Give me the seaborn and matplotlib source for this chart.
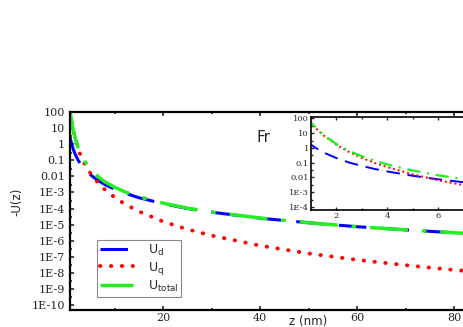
import numpy as np
import seaborn as sns
import matplotlib.pyplot as plt
from matplotlib.ticker import FixedLocator, MultipleLocator, LogLocator, NullFormatter

# data
z = [0.85, 1, 1.2, 1.5, 2, 2.5, 3, 3.5, 4, 5, 6, 7, 8, 10, 12, 15, 20, 25, 30, 40, 50, 60, 70, 80, 90, 100]
u_d = [2.6, 1.6, 0.93, 0.47, 0.2, 0.10, 0.059, 0.037, 0.025, 0.0128, 0.0074, 0.0047, 0.0031, 1.6e-3, 9.3e-4,
       4.7e-4, 2.0e-4, 1.0e-4, 5.9e-5, 2.5e-5, 1.3e-5, 7.4e-6, 4.7e-6, 3.1e-6, 2.2e-6, 1.6e-6]
u_q = [113, 50, 20, 6.6, 1.56, 0.51, 0.206, 0.095, 0.049, 0.016, 6.4e-3, 3.0e-3, 1.5e-3, 5e-4, 2.0e-4,
       6.6e-5, 1.56e-5, 5.1e-6, 2.1e-6, 4.9e-7, 1.6e-7, 6.4e-8, 3.0e-8, 1.5e-8, 8.5e-9, 5e-9]
u_total = [116, 51.6, 20.9, 7.1, 1.76, 0.61, 0.265, 0.132, 0.074, 0.029, 0.0138, 0.0077, 0.0046, 2.1e-3, 1.13e-3,
           5.4e-4, 2.16e-4, 1.05e-4, 6.1e-5, 2.55e-5, 1.3e-5, 7.4e-6, 4.7e-6, 3.1e-6, 2.2e-6, 1.6e-6]

main_yticks = [1e2, 1e1, 1, 1e-1, 1e-2, 1e-3, 1e-4, 1e-5, 1e-6, 1e-7, 1e-8, 1e-9, 1e-10]
main_ylabels = ["100", "10", "1", "0.1", "0.01", "1E-3", "1E-4", "1E-5", "1E-6", "1E-7", "1E-8", "1E-9", "1E-10"]
inset_yticks = [1e2, 1e1, 1, 1e-1, 1e-2, 1e-3, 1e-4]
inset_ylabels = ["100", "10", "1", "0.1", "0.01", "1E-3", "1E-4"]

sns.set_style("ticks")
plt.rcParams["font.family"] = ["DejaVu Sans"]
plt.rcParams["xtick.direction"] = "in"
plt.rcParams["ytick.direction"] = "in"

fig = plt.figure(figsize=(4.63, 3.27), dpi=100)
ax = fig.add_axes([0.1512, 0.052, 1.039, 0.6055])

# main curves
sns.lineplot(x=z, y=u_d, ax=ax, color="blue", lw=2.2, linestyle=(0, (9, 5)), label="U$_\\mathregular{d}$")
sns.lineplot(x=z, y=u_q, ax=ax, color="red", lw=2.8, linestyle=(0, (0.1, 2.7)),
             dash_capstyle="round", label="U$_\\mathregular{q}$")
sns.lineplot(x=z, y=u_total, ax=ax, color="#22ee22", lw=2.5, linestyle=(0, (11, 4, 1.3, 4)),
             label="U$_\\mathregular{total}$")

ax.set_yscale("log")
ax.set_xlim(0.82, 100)
ax.set_ylim(10 ** -10.31, 100)
ax.yaxis.set_major_locator(FixedLocator(main_yticks))
ax.set_yticklabels(main_ylabels, family="DejaVu Serif", fontsize=8)
ax.yaxis.set_minor_locator(LogLocator(base=10, subs=(3.0,), numticks=100))
ax.yaxis.set_minor_formatter(NullFormatter())
ax.xaxis.set_major_locator(MultipleLocator(20))
ax.xaxis.set_minor_locator(MultipleLocator(10))
for t in ax.get_xticklabels():
    t.set_family("DejaVu Serif")
    t.set_fontsize(8)
ax.tick_params(which="both", top=True, right=False, width=1.2, length=3)
ax.tick_params(which="minor", length=1.5)
ax.tick_params(axis="x", pad=2)
for s in ax.spines.values():
    s.set_linewidth(1.6)
    s.set_color("black")
ax.set_xlabel("")
ax.set_ylabel("")

leg = ax.legend(loc="lower left", bbox_to_anchor=(0.056, 0.066), borderaxespad=0, fontsize=9,
                handlelength=2.6, labelspacing=0.15, borderpad=0.25, handletextpad=1.2,
                fancybox=False, framealpha=1)
leg.get_frame().set_edgecolor("#888888")
leg.get_frame().set_linewidth(0.8)

fig.text(17 / 463, 1 - 202 / 327, "-U(z)", rotation=90, ha="center", va="center", fontsize=8.5)
fig.text(308 / 463, 1 - 322 / 327, "z (nm)", ha="center", va="center", fontsize=8.5)
fig.text(263 / 463, 1 - 137 / 327, "Fr", ha="center", va="center", fontsize=11)

# inset
ins = fig.add_axes([0.6717, 0.3578, 0.3844, 0.2844])
sns.lineplot(x=z, y=u_d, ax=ins, color="blue", lw=1.4, linestyle=(0, (7, 4)))
sns.lineplot(x=z, y=u_q, ax=ins, color="red", lw=1.4, linestyle=(0, (1, 1.5)))
sns.lineplot(x=z, y=u_total, ax=ins, color="#22ee22", lw=1.6, linestyle=(0, (6, 3, 1, 3)))
ins.set_yscale("log")
ins.set_xlim(1, 8)
ins.set_ylim(10 ** -4.2, 10 ** 2.07)
ins.yaxis.set_major_locator(FixedLocator(inset_yticks))
ins.set_yticklabels(inset_ylabels, family="DejaVu Serif", fontsize=6)
ins.yaxis.set_minor_locator(LogLocator(base=10, subs=(3.0,), numticks=100))
ins.yaxis.set_minor_formatter(NullFormatter())
ins.xaxis.set_major_locator(MultipleLocator(2))
ins.xaxis.set_minor_locator(MultipleLocator(1))
for t in ins.get_xticklabels():
    t.set_family("DejaVu Serif")
    t.set_fontsize(6)
ins.tick_params(which="both", top=True, right=False, width=1.0, length=2.5, pad=1.5)
ins.tick_params(which="minor", length=1.2)
for s in ins.spines.values():
    s.set_linewidth(1.2)
    s.set_color("black")
ins.set_facecolor("white")

fig.savefig("out.png", dpi=100)
